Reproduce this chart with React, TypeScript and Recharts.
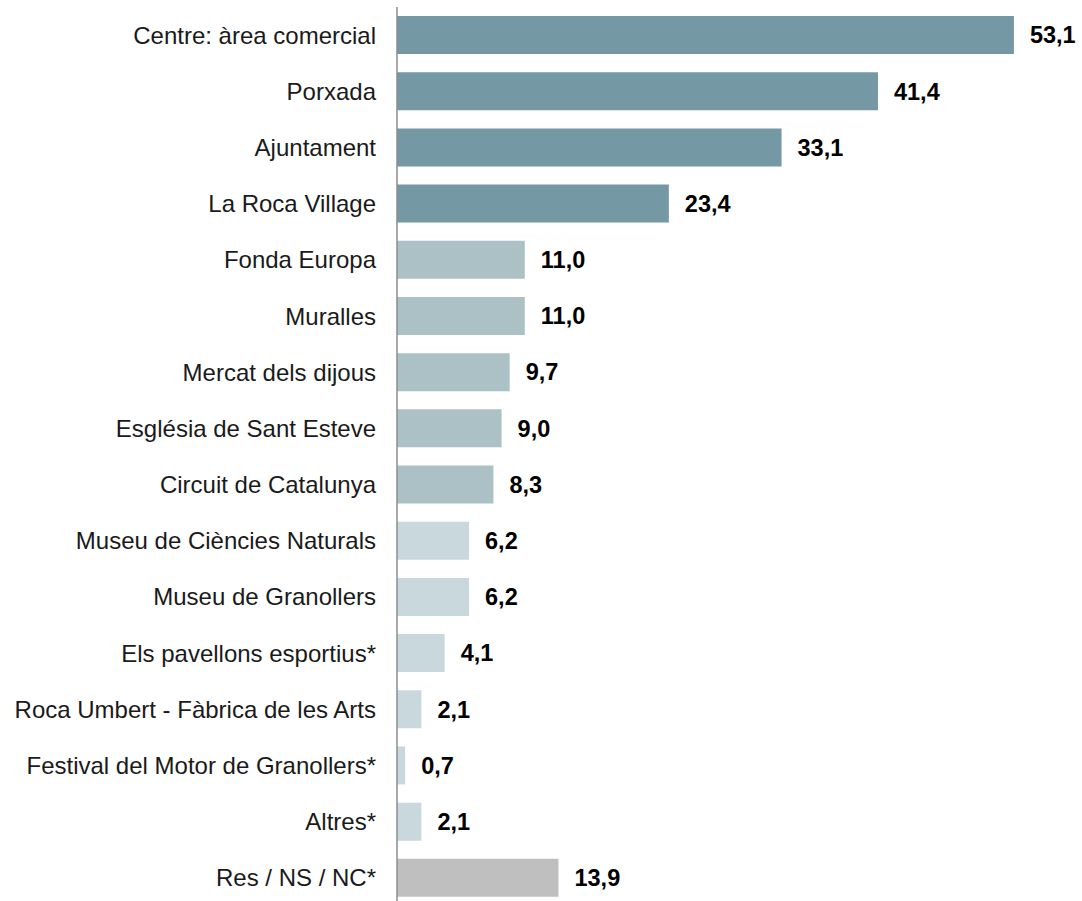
import React from "react";
import { BarChart, Bar, XAxis, YAxis, Cell, LabelList } from "recharts";

const categories = [
  "Centre: àrea comercial",
  "Porxada",
  "Ajuntament",
  "La Roca Village",
  "Fonda Europa",
  "Muralles",
  "Mercat dels dijous",
  "Església de Sant Esteve",
  "Circuit de Catalunya",
  "Museu de Ciències Naturals",
  "Museu de Granollers",
  "Els pavellons esportius*",
  "Roca Umbert - Fàbrica de les Arts",
  "Festival del Motor de Granollers*",
  "Altres*",
  "Res / NS / NC*",
];

const values = [53.1, 41.4, 33.1, 23.4, 11.0, 11.0, 9.7, 9.0, 8.3, 6.2, 6.2, 4.1, 2.1, 0.7, 2.1, 13.9];

const tiers = ["high", "high", "high", "high", "mid", "mid", "mid", "mid", "mid", "low", "low", "low", "low", "low", "low", "none"];

const tierColors: Record<string, string> = {
  high: "#7599A4",
  mid: "#ABC1C6",
  low: "#C9D8DD",
  none: "#BFBFBF",
};

const data = categories.map((name, i) => ({ name, value: values[i], tier: tiers[i] }));

const fmt = (v: any) => Number(v).toFixed(1).replace(".", ",");

const FONT = "'Liberation Sans', Arial, sans-serif";

export default function App() {
  return (
    <div style={{ position: "absolute", left: 0, top: 0 }}>
      <BarChart
        width={1082}
        height={906}
        data={data}
        layout="vertical"
        margin={{ top: 7, right: 46, bottom: 0, left: 0 }}
      >
        <XAxis type="number" domain={[0, 55]} hide />
        <YAxis
          type="category"
          dataKey="name"
          width={397}
          tickLine={false}
          tickSize={0}
          tickMargin={21}
          axisLine={{ stroke: "#8C8C8C", strokeWidth: 1.5 }}
          tick={{ fill: "#1a1a1a", fontSize: 24, fontFamily: FONT }}
          interval={0}
        />
        <Bar dataKey="value" barSize={38} isAnimationActive={false}>
          {data.map((d, i) => (
            <Cell key={i} fill={tierColors[d.tier]} />
          ))}
          <LabelList
            dataKey="value"
            position="right"
            offset={16}
            formatter={fmt}
            style={{ fill: "#000", fontSize: 23.5, fontWeight: "bold", fontFamily: FONT }}
          />
        </Bar>
      </BarChart>
    </div>
  );
}
